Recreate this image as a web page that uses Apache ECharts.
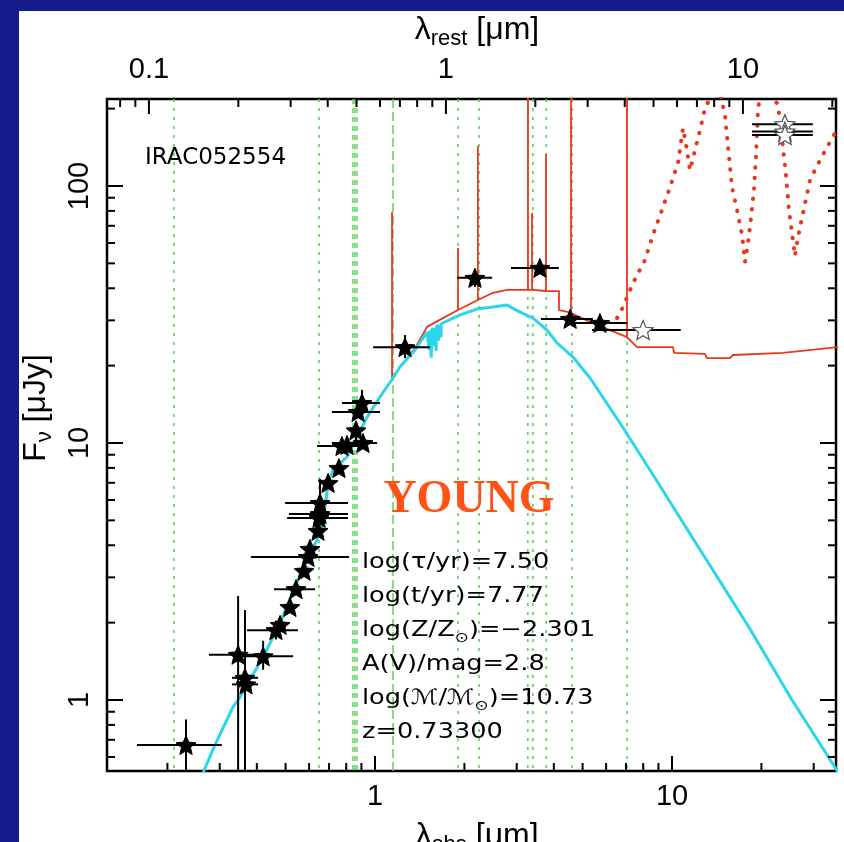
<!DOCTYPE html>
<html>
<head>
<meta charset="utf-8">
<script src="https://cdn.jsdelivr.net/npm/echarts@6/dist/echarts.min.js"></script>
<style>
  html, body { margin: 0; padding: 0; width: 844px; height: 842px; overflow: hidden; background: #141b8c; }
  #chart { position: absolute; left: 19px; top: 11px; width: 825px; height: 831px; background: #ffffff; }
</style>
</head>
<body>
<div id="chart"></div>
<script>
// ---- fit parameters ----
const REDSHIFT = 0.733;

// ---- observed photometry (lambda_obs in micron, F_nu in microJy) ----
const photLambda   = [0.231, 0.346, 0.365, 0.368, 0.420, 0.464, 0.479, 0.517, 0.542, 0.577, 0.595, 0.604, 0.643, 0.648, 0.653, 0.653, 0.695, 0.756, 0.774, 0.805, 0.911, 0.863, 0.877, 0.904, 1.262, 2.17, 3.59, 4.54, 5.72];
const photFlux     = [0.668, 1.50, 1.22, 1.15, 1.48, 1.87, 1.96, 2.30, 2.70, 3.18, 3.60, 3.87, 4.55, 5.11, 5.29, 5.84, 6.99, 7.99, 9.73, 9.82, 10.0, 11.2, 13.2, 14.3, 23.6, 43.9, 48.0, 30.4, 29.3];
const photLambdaLo = [0.158, 0.276, 0.330, 0.330, 0.351, 0.371, null, null, 0.457, null, 0.382, null, null, 0.506, 0.513, 0.498, null, null, 0.638, null, 0.716, null, 0.716, 0.774, 0.985, 1.89, 2.87, 3.62, 4.71];
const photLambdaHi = [0.305, 0.443, 0.404, 0.404, 0.530, 0.550, null, null, 0.628, null, 0.818, null, null, 0.811, 0.811, 0.811, null, null, 0.904, null, 1.016, null, 1.039, 1.039, 1.532, 2.48, 4.16, 5.42, 7.06];
const photFluxLo   = [0.40, 0.30, 0.30, null, 1.31, 1.72, null, null, null, null, null, null, null, null, null, 5.40, null, null, null, null, null, 9.82, null, 12.3, 21.4, 40.5, 45.5, 28.9, null];
const photFluxHi   = [0.84, 2.54, 2.24, null, 1.70, 2.02, null, null, null, null, null, null, null, null, null, 7.24, null, null, null, null, null, 11.5, null, 16.1, 26.3, 47.5, 50.5, 32.0, null];

// ---- points not used in the fit (open symbols) ----
const openLambda   = [7.99, 24.0, 24.0, 24.0];
const openFlux     = [27.5, 174, 163, 158];
const openLambdaLo = [5.38, 18.6, 18.6, 18.6];
const openLambdaHi = [10.7, 29.8, 29.8, 29.8];

// ---- stellar model (cyan) ----
const stellarLambda = [0.2636, 0.289, 0.3325, 0.351, 0.420, 0.479, 0.550, 0.604, 0.638, 0.663, 0.684, 0.695, 0.722, 0.805, 0.870, 0.940, 1.039, 1.150, 1.214, 1.364, 1.497, 1.520, 1.523, 1.526, 1.544, 1.547, 1.550, 1.575, 1.578, 1.581, 1.604, 1.607, 1.610, 1.636, 1.639, 1.642, 1.665, 1.668, 1.671, 1.694, 1.933, 2.205, 2.496, 2.783, 3.077, 3.404, 3.794, 4.101, 4.642, 5.296, 6.68, 8.43, 12.43, 18.31, 25.35, 36.2];
const stellarFlux   = [0.520, 0.668, 0.939, 1.027, 1.47, 1.99, 2.93, 3.73, 4.19, 4.80, 6.0, 7.05, 7.85, 8.82, 10.55, 12.6, 15.1, 17.9, 19.8, 23.0, 27.0, 27.2, 23.0, 27.3, 27.5, 21.5, 27.6, 27.9, 23.8, 28.0, 28.3, 22.8, 28.4, 28.7, 25.0, 28.8, 29.0, 25.8, 29.1, 29.6, 31.5, 33.2, 33.8, 34.4, 32.3, 30.6, 27.5, 24.5, 21.6, 17.9, 11.96, 7.85, 3.84, 1.89, 1.0, 0.525];

// ---- total model with nebular emission lines (red) ----
const totalLambda = [1.039, 1.141, 1.141, 1.141, 1.214, 1.364, 1.497, 1.694, 1.903, 1.903, 1.903, 2.22, 2.22, 2.22, 2.496, 2.783, 3.077, 3.274, 3.274, 3.274, 3.379, 3.379, 3.379, 3.60, 3.765, 3.765, 3.765, 4.164, 4.164, 4.45, 4.571, 4.571, 4.571, 5.296, 6.04, 7.056, 7.056, 7.056, 7.62, 10.08, 10.16, 12.92, 13.1, 15.68, 16.04, 23.6, 36.2];
const totalFlux   = [15.1, 17.7, 79.2, 17.7, 19.8, 23.4, 28.3, 30.6, 32.9, 57.4, 32.9, 36.0, 143, 36.0, 38.4, 39.4, 39.4, 39.4, 300, 39.4, 39.4, 78.5, 39.4, 39.2, 39.0, 133, 39.0, 39.0, 32.9, 32.4, 32.0, 300, 32.0, 29.6, 27.8, 25.8, 300, 25.8, 23.6, 23.6, 22.4, 22.2, 21.4, 21.4, 22.0, 22.4, 23.6];

// ---- dust emission model (red dotted) ----
const dustLambda = [6.53, 6.84, 7.39, 8.11, 8.63, 9.25, 9.85, 10.48, 10.89, 11.23, 11.50, 11.95, 12.43, 12.92, 13.63, 14.51, 15.08, 15.44, 15.92, 16.56, 17.21, 17.61, 18.03, 18.45, 18.88, 19.18, 19.48, 19.8, 21.38, 22.75, 23.64, 24.2, 24.77, 25.35, 25.95, 26.56, 27.61, 29.15, 31.5, 34.0, 36.2];
const dustFlux   = [30.6, 33.8, 41.9, 51.5, 64.5, 80.6, 99.1, 122.9, 168, 138, 115, 138, 165, 201, 226, 230, 189, 142, 99.1, 80.6, 64.5, 50.6, 60.0, 75.1, 96.5, 132, 198, 226, 230, 207, 142, 110, 80.6, 65.6, 53.4, 63.3, 78.5, 105.5, 126, 148, 168];

// ---- filter effective wavelengths (observed frame, micron) ----
const filterDotted  = [0.2105, 0.648, 1.903, 2.24, 3.27, 3.40, 3.77, 4.61, 7.06];
const filterHatched = [0.843, 0.856, 0.870];
const filterDashed  = [1.150];

// ---- axis ranges and ticks ----
const X_MIN = 0.1252, X_MAX = 35.66;
const Y_MIN = 0.5293, Y_MAX = 218;
const obsMajorTicks  = [1, 10];
const obsMinorTicks  = [0.2, 0.3, 0.4, 0.5, 0.6, 0.7, 0.8, 0.9, 2, 3, 4, 5, 6, 7, 8, 9, 20, 30];
const restMajorTicks = [0.1, 1, 10];
const restMinorTicks = [0.08, 0.09, 0.2, 0.3, 0.4, 0.5, 0.6, 0.7, 0.8, 0.9, 2, 3, 4, 5, 6, 7, 8, 9, 20];
const fluxMajorTicks = [1, 10, 100];
const fluxMinorTicks = [0.6, 0.7, 0.8, 0.9, 2, 3, 4, 5, 6, 7, 8, 9, 20, 30, 40, 50, 60, 70, 80, 90, 200];

// page offset of the white panel
const OX = 19, OY = 11;
const px = x => x - OX, py = y => y - OY;

const TICK_FONT = '29px "Liberation Sans", Arial, sans-serif';
const TITLE_FONT = '32px "Liberation Sans", Arial, sans-serif';
const STAR = 'path://M0,-10L2.645,-3.64L9.51,-3.09L4.28,1.39L5.88,8.09L0,4.5L-5.88,8.09L-4.28,1.39L-9.51,-3.09L-2.645,-3.64Z';

function tickSeries(values, side, len, labelled) {
  return {
    type: 'custom', silent: true, z: 6, animation: false,
    data: values.map(v => side === 'top' ? [v * (1 + REDSHIFT), 1] : (side === 'bottom' ? [v, 1] : [1, v])),
    renderItem(params, api) {
      const cs = params.coordSys;
      const p = api.coord([api.value(0), api.value(1)]);
      const L = cs.x, R = cs.x + cs.width, T = cs.y, B = cs.y + cs.height;
      const st = { stroke: '#000', lineWidth: 2 };
      const kids = [];
      const label = String(values[params.dataIndex]);
      if (side === 'bottom' || side === 'top') {
        const x = p[0];
        kids.push({ type: 'line', shape: side === 'bottom' ? { x1: x, y1: B, x2: x, y2: B - len } : { x1: x, y1: T, x2: x, y2: T + len }, style: st });
        if (labelled) {
          kids.push({ type: 'text', x: x, y: side === 'bottom' ? B + 26 : T - 29,
            style: { text: label, font: TICK_FONT, fill: '#000', align: 'center', verticalAlign: 'middle' } });
        }
      } else {
        const y = p[1];
        kids.push({ type: 'line', shape: { x1: L, y1: y, x2: L + len, y2: y }, style: st });
        kids.push({ type: 'line', shape: { x1: R, y1: y, x2: R - len, y2: y }, style: st });
        if (labelled) {
          kids.push({ type: 'text', x: L - 27, y: y, rotation: Math.PI / 2,
            style: { text: label, font: TICK_FONT, fill: '#000', align: 'center', verticalAlign: 'middle' } });
        }
      }
      return { type: 'group', children: kids };
    }
  };
}

function filterSeries(values, dash, width) {
  return {
    type: 'custom', silent: true, z: 1, animation: false,
    data: values.map(v => [v, 1]),
    renderItem(params, api) {
      const cs = params.coordSys;
      const x = api.coord([api.value(0), 1])[0];
      return { type: 'line', shape: { x1: x, y1: cs.y, x2: x, y2: cs.y + cs.height },
        style: { stroke: '#5ccf5c', lineWidth: width, lineDash: dash } };
    }
  };
}

function errorBarSeries(lam, flux, lamLo, lamHi, fLo, fHi) {
  return {
    type: 'custom', silent: true, z: 4, animation: false,
    data: lam.map((l, i) => [l, flux[i]]),
    renderItem(params, api) {
      const i = params.dataIndex;
      const cs = params.coordSys;
      const clampY = y => Math.max(cs.y, Math.min(cs.y + cs.height, y));
      const st = { stroke: '#000', lineWidth: 2 };
      const kids = [];
      if (lamLo[i] != null) {
        const a = api.coord([lamLo[i], flux[i]]), b = api.coord([lamHi[i], flux[i]]);
        kids.push({ type: 'line', shape: { x1: a[0], y1: a[1], x2: b[0], y2: b[1] }, style: st });
      }
      if (fLo && fLo[i] != null) {
        const a = api.coord([lam[i], fLo[i]]), b = api.coord([lam[i], fHi[i]]);
        kids.push({ type: 'line', shape: { x1: a[0], y1: clampY(a[1]), x2: b[0], y2: clampY(b[1]) }, style: st });
      }
      return { type: 'group', children: kids };
    }
  };
}

const pairs = (xs, ys) => xs.map((x, i) => [x, ys[i]]);

const chart = echarts.init(document.getElementById('chart'), null, { renderer: 'canvas' });

const subRich = (size, pad, family) => ({ fontSize: size, fontFamily: family, padding: [pad, 0, 0, 0] });

const PARAM_FONT_FAMILY = '"DejaVu Sans", sans-serif';
const paramLines = [
  'log(τ/yr)=7.50',
  'log(t/yr)=7.77',
  'log(Z/Z{s|⊙})=−2.301',
  'A(V)/mag=2.8',
  'log(ℳ/ℳ{s|⊙})=10.73',
  'z=0.73300'
];

const option = {
  backgroundColor: '#ffffff',
  animation: false,
  grid: { left: 88, top: 88, width: 729, height: 672, show: true, borderColor: '#000', borderWidth: 2.5, backgroundColor: 'transparent' },
  xAxis: { type: 'log', logBase: 10, min: X_MIN, max: X_MAX,
    axisLine: { show: false }, axisTick: { show: false }, axisLabel: { show: false }, splitLine: { show: false } },
  yAxis: { type: 'log', logBase: 10, min: Y_MIN, max: Y_MAX,
    axisLine: { show: false }, axisTick: { show: false }, axisLabel: { show: false }, splitLine: { show: false } },
  series: [
    filterSeries(filterDotted, [3, 6], 1.6),
    filterSeries(filterHatched, [5, 4], 1.4),
    filterSeries(filterDashed, [9, 4], 1.5),
    { type: 'line', data: pairs(totalLambda, totalFlux), showSymbol: false, symbol: 'none', z: 2,
      lineStyle: { color: '#e8381c', width: 1.8 }, clip: true },
    { type: 'line', data: pairs(dustLambda, dustFlux), showSymbol: false, symbol: 'none', z: 2,
      lineStyle: { color: '#e8381c', width: 4, type: [0.5, 10], cap: 'round' }, clip: true },
    { type: 'line', data: pairs(stellarLambda, stellarFlux), showSymbol: false, symbol: 'none', z: 3,
      lineStyle: { color: '#2ad6ea', width: 3 }, clip: true },
    errorBarSeries(photLambda, photFlux, photLambdaLo, photLambdaHi, photFluxLo, photFluxHi),
    errorBarSeries(openLambda, openFlux, openLambdaLo, openLambdaHi, null, null),
    { type: 'scatter', data: pairs(photLambda, photFlux), symbol: STAR, symbolSize: 20, symbolKeepAspect: true, z: 5,
      itemStyle: { color: '#000', borderColor: '#000', borderWidth: 1, opacity: 1 }, silent: true },
    { type: 'scatter', data: pairs(openLambda, openFlux), symbol: STAR, symbolSize: 20, symbolKeepAspect: true, z: 5,
      itemStyle: { color: '#ffffff', borderColor: '#555', borderWidth: 1.2, opacity: 1 }, silent: true },
    tickSeries(obsMajorTicks, 'bottom', 15, true),
    tickSeries(obsMinorTicks, 'bottom', 8, false),
    tickSeries(restMajorTicks, 'top', 15, true),
    tickSeries(restMinorTicks, 'top', 8, false),
    tickSeries(fluxMajorTicks, 'left', 16, true),
    tickSeries(fluxMinorTicks, 'left', 8, false)
  ],
  graphic: [
    { type: 'text', x: px(145), y: py(158), z: 10,
      style: { text: 'IRAC052554', font: '23px "DejaVu Sans", sans-serif', fill: '#000', align: 'left', verticalAlign: 'middle' } },
    { type: 'text', x: px(469), y: py(500), z: 10,
      style: { text: 'YOUNG', font: 'bold 46px "Liberation Serif", "Times New Roman", serif', fill: '#ff5214', align: 'center', verticalAlign: 'middle' } },
    ...paramLines.map((t, k) => ({
      type: 'text', x: px(362), y: py(563 + 34 * k), scaleX: 1.22, z: 10,
      style: { text: t, font: '21px ' + PARAM_FONT_FAMILY, fill: '#000', align: 'left', verticalAlign: 'middle',
        rich: { s: subRich(14, 14, 'DejaVu Sans') } }
    })),
    { type: 'text', x: px(477), y: py(30), z: 10,
      style: { text: 'λ{s|rest} [μm]', font: TITLE_FONT, fill: '#000', align: 'center', verticalAlign: 'middle',
        rich: { s: subRich(22, 18, 'Liberation Sans') } } },
    { type: 'text', x: px(477), y: py(836), z: 10,
      style: { text: 'λ{s|obs} [μm]', font: TITLE_FONT, fill: '#000', align: 'center', verticalAlign: 'middle',
        rich: { s: subRich(22, 18, 'Liberation Sans') } } },
    { type: 'text', x: px(36), y: py(408), rotation: Math.PI / 2, z: 10,
      style: { text: 'F{s|ν} [μJy]', font: TITLE_FONT, fill: '#000', align: 'center', verticalAlign: 'middle',
        rich: { s: subRich(22, 18, 'Liberation Sans') } } }
  ]
};

chart.setOption(option);
</script>
</body>
</html>
